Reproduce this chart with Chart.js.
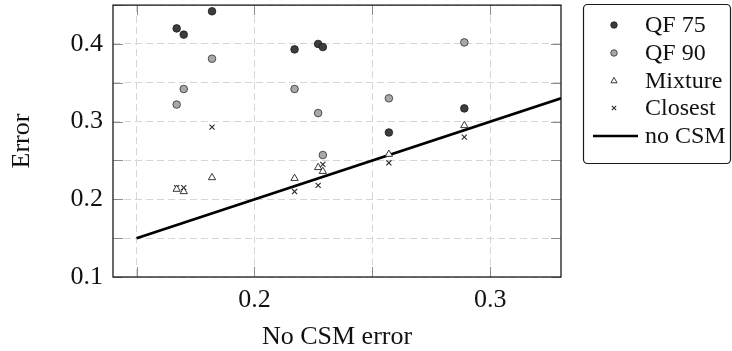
<!DOCTYPE html>
<html>
<head>
<meta charset="utf-8">
<script src="https://cdn.jsdelivr.net/npm/chart.js@4"></script>
<style>
  html, body { margin: 0; padding: 0; background: #fff; }
  #wrap { width: 732px; height: 351px; }
</style>
</head>
<body>
<div id="wrap"><canvas id="chart" width="732" height="351"></canvas></div>
<script>
// values
const noCsmError = [0.167, 0.170, 0.182, 0.217, 0.227, 0.229, 0.257, 0.289];
const qf75 = [0.420, 0.412, 0.442, 0.393, 0.400, 0.396, 0.286, 0.317];
const qf90 = [0.322, 0.342, 0.381, 0.342, 0.311, 0.257, 0.330, 0.402];
const mixture = [0.213, 0.210, 0.228, 0.227, 0.241, 0.236, 0.258, 0.295];
const closest = [0.215, 0.215, 0.293, 0.210, 0.218, 0.245, 0.247, 0.280];
const baselineX = [0.15, 0.33];
const baselineY = [0.15, 0.33];
const xTickLabels = ['0.2', '0.3'];
const yTickLabels = ['0.1', '0.2', '0.3', '0.4'];

const FONT = 'Liberation Serif';

function pts(xs, ys) {
    return xs.map((x, i) => ({ x: x, y: ys[i] }));
}

function tickLabel(list) {
    return function(value) {
        const s = (Math.round(value * 100) / 100).toFixed(2);
        const t = s.replace(/0$/, '');
        return list.includes(t) ? t : '';
    };
}

// frame + inner tick marks, pgfplots style
const framePlugin = {
    id: 'frame',
    beforeDatasetsDraw(chart) {
        const { ctx, chartArea: a, scales } = chart;
        ctx.save();
        ctx.strokeStyle = '#8c8c8c';
        ctx.lineWidth = 1;
        ctx.setLineDash([]);
        scales.x.ticks.forEach(t => {
            const px = Math.round(scales.x.getPixelForValue(t.value)) + 0.5;
            ctx.beginPath();
            ctx.moveTo(px, a.bottom); ctx.lineTo(px, a.bottom - 10);
            ctx.moveTo(px, a.top); ctx.lineTo(px, a.top + 10);
            ctx.stroke();
        });
        scales.y.ticks.forEach(t => {
            const py = Math.round(scales.y.getPixelForValue(t.value)) + 0.5;
            ctx.beginPath();
            ctx.moveTo(a.left, py); ctx.lineTo(a.left + 10, py);
            ctx.moveTo(a.right, py); ctx.lineTo(a.right - 10, py);
            ctx.stroke();
        });
        ctx.strokeStyle = '#1a1a1a';
        ctx.lineWidth = 1.3;
        ctx.strokeRect(a.left, a.top, a.right - a.left, a.bottom - a.top);
        ctx.restore();
    }
};

// legend box on the right
const legendPlugin = {
    id: 'boxLegend',
    afterDraw(chart) {
        const ctx = chart.ctx;
        const x0 = 583, y0 = 4, w = 147, h = 159, r = 4;
        ctx.save();
        ctx.strokeStyle = '#1a1a1a';
        ctx.lineWidth = 1.2;
        ctx.beginPath();
        ctx.roundRect(x0 + 0.5, y0 + 0.5, w, h, r);
        ctx.stroke();

        const rowY = [25, 53, 81, 108, 136];
        ctx.font = '24px "' + FONT + '"';
        ctx.textBaseline = 'middle';
        ctx.textAlign = 'left';
        chart.data.datasets.forEach((ds, i) => {
            const y = rowY[i];
            if (ds.showLine) {
                ctx.strokeStyle = ds.borderColor;
                ctx.lineWidth = ds.borderWidth;
                ctx.beginPath();
                ctx.moveTo(593, y); ctx.lineTo(638, y);
                ctx.stroke();
            } else {
                ctx.fillStyle = ds.backgroundColor;
                ctx.strokeStyle = ds.borderColor;
                ctx.lineWidth = ds.borderWidth;
                Chart.helpers.drawPoint(ctx, {
                    pointStyle: ds.pointStyle,
                    radius: ds.pointRadius * 0.85,
                    borderWidth: ds.borderWidth,
                    rotation: 0
                }, 614, y);
            }
            ctx.fillStyle = '#111';
            ctx.fillText(ds.label, 645, y + 1);
        });
        ctx.restore();
    }
};

new Chart(document.getElementById('chart'), {
    type: 'scatter',
    data: {
        datasets: [
            {
                label: 'QF 75',
                data: pts(noCsmError, qf75),
                pointStyle: 'circle',
                pointRadius: 3.8,
                backgroundColor: '#3d3d3d',
                borderColor: '#1a1a1a',
                borderWidth: 0.8
            },
            {
                label: 'QF 90',
                data: pts(noCsmError, qf90),
                pointStyle: 'circle',
                pointRadius: 3.8,
                backgroundColor: '#a8a8a8',
                borderColor: '#2e2e2e',
                borderWidth: 0.8
            },
            {
                label: 'Mixture',
                data: pts(noCsmError, mixture),
                pointStyle: 'triangle',
                pointRadius: 4.2,
                backgroundColor: '#ffffff',
                borderColor: '#222222',
                borderWidth: 0.9
            },
            {
                label: 'Closest',
                data: pts(noCsmError, closest),
                pointStyle: 'crossRot',
                pointRadius: 3.6,
                backgroundColor: '#2a2a2a',
                borderColor: '#2a2a2a',
                borderWidth: 1.1
            },
            {
                label: 'no CSM',
                data: pts(baselineX, baselineY),
                showLine: true,
                pointRadius: 0,
                borderColor: '#000000',
                borderWidth: 2.6,
                backgroundColor: '#000000'
            }
        ]
    },
    options: {
        responsive: false,
        animation: false,
        events: [],
        layout: { padding: { top: 4, right: 171, left: 0, bottom: 0 } },
        plugins: {
            legend: { display: false },
            tooltip: { enabled: false }
        },
        scales: {
            x: {
                type: 'linear',
                min: 0.14,
                max: 0.33,
                afterFit: s => { s.height = 74; s.paddingLeft = 0; s.paddingRight = 0; },
                ticks: {
                    stepSize: 0.05,
                    includeBounds: false,
                    autoSkip: false,
                    maxRotation: 0,
                    padding: 8,
                    color: '#111',
                    font: { family: FONT, size: 26 },
                    callback: tickLabel(xTickLabels)
                },
                grid: { color: '#d6d6d6', lineWidth: 1, drawTicks: false },
                border: { display: false, dash: [7, 4] },
                title: {
                    display: true,
                    text: 'No CSM error',
                    color: '#111',
                    font: { family: FONT, size: 26, lineHeight: 1.1 },
                    padding: { top: 0, bottom: 0 }
                }
            },
            y: {
                type: 'linear',
                min: 0.1,
                max: 0.45,
                afterFit: s => { s.width = 113; s.paddingTop = 0; s.paddingBottom = 0; },
                ticks: {
                    stepSize: 0.05,
                    autoSkip: false,
                    padding: 10,
                    color: '#111',
                    font: { family: FONT, size: 26 },
                    callback: tickLabel(yTickLabels)
                },
                grid: { color: '#d6d6d6', lineWidth: 1, drawTicks: false },
                border: { display: false, dash: [7, 4] },
                title: {
                    display: true,
                    text: 'Error',
                    color: '#111',
                    font: { family: FONT, size: 26, lineHeight: 1.1 },
                    padding: { top: 8, bottom: 0 }
                }
            }
        }
    },
    plugins: [framePlugin, legendPlugin]
});
</script>
</body>
</html>
